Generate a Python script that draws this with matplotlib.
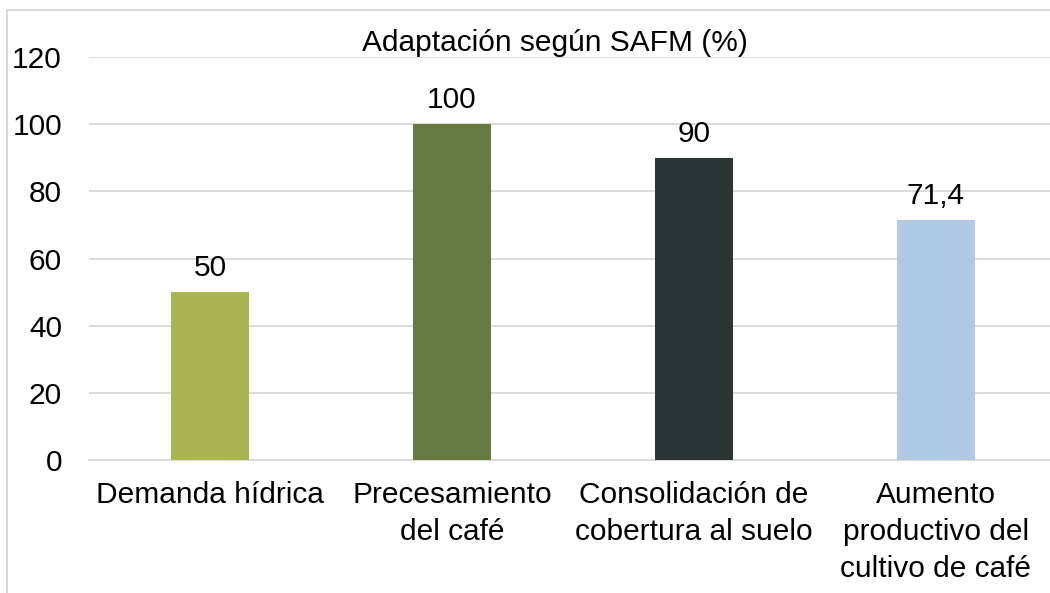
import matplotlib.pyplot as plt
from matplotlib.patches import Rectangle

plt.rcParams['font.family'] = ['Liberation Sans', 'DejaVu Sans']

categorias = ["Demanda hídrica", "Precesamiento\ndel café",
              "Consolidación de\ncobertura al suelo",
              "Aumento\nproductivo del\ncultivo de café"]
valores = [50, 100, 90, 71.4]
etiquetas = ["50", "100", "90", "71,4"]
colores = ["#A9B550", "#677A43", "#2B3634", "#B0CAE6"]
ticks_y = [0, 20, 40, 60, 80, 100, 120]

W, H = 1050, 593
fs = 21.5
fig = plt.figure(figsize=(W / 100, H / 100), dpi=100)
# axes runs a little past the right edge, like the cropped original
ax = fig.add_axes([89 / W, 1 - 460 / H, (1057 - 89) / W, (460 - 57) / H])

x = list(range(len(valores)))
ax.bar(x, valores, width=0.32, color=colores, zorder=3)
for xi, v, t in zip(x, valores, etiquetas):
    ax.text(xi, v + 3, t, ha='center', va='bottom', fontsize=fs, color='#000000')

ax.set_xlim(-0.5, 3.5)
ax.set_ylim(0, 120)
ax.set_yticks(ticks_y)
ax.set_xticks(x)
ax.set_xticklabels(categorias, fontsize=fs, linespacing=1.42)
ax.tick_params(axis='y', labelsize=fs, length=0, pad=19.5)
ax.tick_params(axis='x', length=0, pad=15)
ax.yaxis.grid(True, color='#D9D9D9', lw=1.3, zorder=0)
for s in ['top', 'right', 'left']:
    ax.spines[s].set_visible(False)
ax.spines['bottom'].set_color('#D9D9D9')
ax.spines['bottom'].set_linewidth(1.3)

fig.text(555 / W, 1 - 43 / H, "Adaptación según SAFM (%)", ha='center', va='center',
         fontsize=fs)

# outer chart border (only top and left visible in the crop)
fig.patches.append(Rectangle((7 / W, -0.1), 1.2, 1 - 10 / H + 0.1, transform=fig.transFigure,
                             fill=False, edgecolor='#D9D9D9', lw=1.5))

fig.savefig("out.png", dpi=100)
